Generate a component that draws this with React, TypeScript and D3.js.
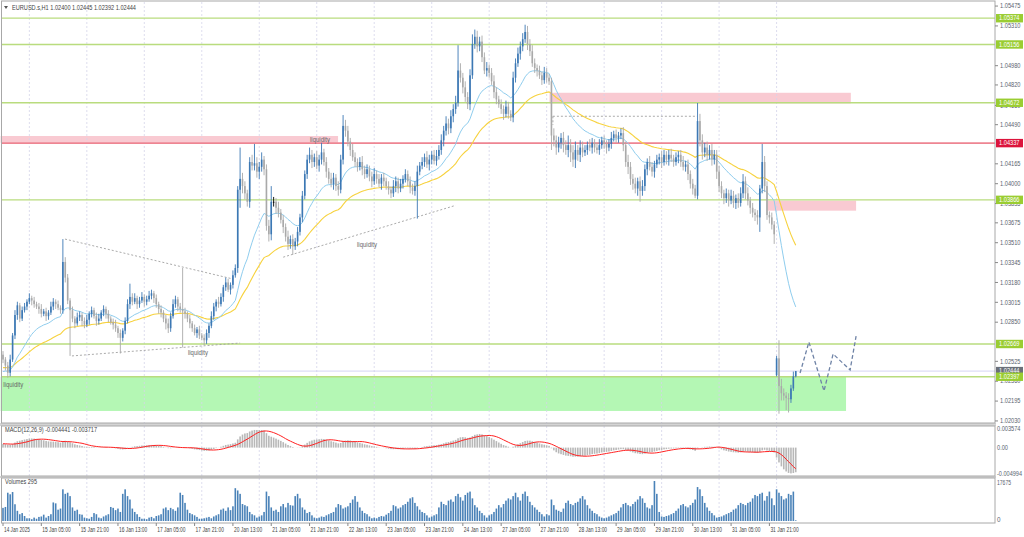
import React from 'react';
import * as d3 from 'd3';

// closes in pips above 1.0000 (e.g. 254 => 1.0254), one per H1 bar, bar 0 = 14 Jan 13:00
const closes = [
  254, 249, 243, 254, 274, 291, 299, 288, 295,
  298, 302, 305, 303, 300, 298, 296, 292, 294, 290, 293, 298, 302, 300, 297, 295,
  335, 322, 303, 295,
  288, 284, 289, 291, 286, 283, 287, 292, 295, 290, 286, 288, 293, 296, 292, 288, 285, 283, 280, 276, 272, 278,
  286, 300, 306, 302, 305, 300, 303, 306, 302, 304, 307, 309, 305, 300, 296,
  293, 288, 284, 280, 290, 300, 304, 298, 296, 294, 292,
  288, 284, 280, 276, 279, 274, 272, 270,
  276, 282, 290, 298, 302, 300, 306, 314, 318, 312, 316, 324, 330,
  395, 404, 398, 392, 385, 418, 415,
  417, 410, 414, 420, 412, 365, 358, 385,
  385, 380, 376, 370, 364, 356, 350, 354, 348, 352, 360,
  372, 390, 408, 420, 424,
  418, 422, 415, 420, 426, 418, 410, 404, 400, 405, 398, 395,
  420, 448, 444, 435, 428, 422, 418,
  414, 418, 412, 408, 412, 406, 402, 408, 404, 400, 405, 402, 398,
  395, 392, 398, 402, 396, 400,
  404, 408, 402, 397, 394, 398, 410, 415,
  418, 422, 416, 420, 424, 419, 423, 428,
  436, 444, 450, 446, 456, 462, 467, 494,
  488, 480, 472, 466, 490, 516, 522, 514, 518,
  505, 494, 496, 492, 485, 476, 470, 466,
  462, 458, 464, 458, 455, 488,
  500, 508, 514, 520, 526, 516, 510, 500, 496, 494,
  490, 486, 492, 488, 485,
  440,
  436, 430, 434, 438, 432, 428,
  432, 426, 420, 428, 424, 430, 426,
  428, 432, 430, 434, 430, 428, 432, 436, 433, 430, 433, 438, 441, 438,
  440, 442, 432, 418, 414, 404,
  400, 396, 402, 394, 398,
  412, 418, 414, 410, 416,
  420, 422, 418, 424, 420, 424, 421, 418, 422, 424, 418, 414, 416,
  408, 400, 396, 390, 452,
  436, 426, 430, 424, 428, 420, 424,
  410, 398, 392, 388,
  392, 386, 390, 384, 388, 384, 392,
  402, 392, 386, 380, 376, 374, 372,
  396, 418, 398, 374, 372, 366, 358,
  255, 232, 226, 224, 222, 221, 230, 240, 244.4,
];
const firstOpen = 258;
const gapOpens: Record<number, number> = { 323: 241 };

// upper wick (pips above body)
const upW = [
  3, 2, 3, 4, 2, 4, 3, 2, 3,
  3, 2, 4, 2, 3, 2, 3, 4, 2, 3, 2, 4, 3, 2, 3, 2,
  19, 4, 3, 2,
  3, 2, 4, 3, 2, 3, 4, 2, 3, 2, 3, 4, 2, 3, 2, 3, 2, 3, 4, 2, 3, 2,
  3, 4, 11, 3, 4, 2, 3, 4, 2, 3, 4, 3, 2, 3, 2,
  3, 2, 3, 4, 3, 4, 3, 2, 3, 34, 3,
  2, 3, 2, 3, 2, 3, 2, 3,
  3, 2, 4, 3, 2, 4, 3, 2, 4, 3, 2, 4, 3,
  3, 26, 5, 4, 3, 4, 6,
  16, 5, 4, 6, 3, 4, 5, 13,
  4, 3, 5, 3, 4, 3, 5, 3, 4, 3, 4,
  3, 4, 3, 4, 6,
  4, 3, 5, 4, 8, 3, 4, 3, 5, 4, 3, 4,
  4, 9, 5, 4, 3, 5, 4,
  3, 4, 5, 3, 4, 3, 4, 5, 3, 4, 3, 4, 3,
  4, 3, 5, 4, 3, 4,
  3, 4, 3, 4, 3, 4, 5, 3,
  4, 3, 5, 4, 3, 4, 5, 4,
  5, 4, 6, 4, 5, 4, 6, 21,
  6, 4, 5, 4, 5, 8, 6, 5, 4,
  5, 4, 5, 3, 4, 5, 4, 3,
  4, 3, 5, 4, 3, 5,
  4, 5, 4, 5, 6, 5, 4, 5, 4, 3,
  4, 3, 5, 4, 3,
  3,
  6, 4, 5, 4, 5, 4,
  8, 5, 6, 7, 4, 6, 5,
  4, 3, 5, 4, 3, 4, 5, 3, 4, 3, 4, 5, 3, 4,
  3, 4, 5, 3, 6, 4,
  4, 5, 3, 4, 5,
  4, 3, 5, 4, 3,
  4, 3, 5, 4, 3, 4, 5, 3, 4, 3, 4, 5, 3,
  4, 3, 4, 3, 15,
  6, 5, 4, 5, 4, 5, 4,
  4, 5, 4, 3,
  4, 3, 5, 4, 3, 4, 5,
  6, 4, 5, 3, 4, 3, 4,
  3, 15, 5, 4, 3, 4, 3,
  2, 15, 6, 4, 3, 4, 3, 4, 0.1,
];
// lower wick (pips below body)
const dnW = [
  3, 4, 4, 3, 2, 3, 4, 3, 2,
  2, 3, 2, 4, 3, 2, 4, 3, 2, 4, 3, 2, 3, 4, 2, 3,
  3, 4, 3, 38,
  3, 4, 2, 3, 4, 3, 2, 4, 3, 2, 4, 3, 2, 3, 4, 3, 2, 4, 3, 4, 13, 3,
  3, 2, 4, 3, 2, 4, 3, 2, 4, 3, 2, 3, 4, 3, 4,
  4, 3, 5, 4, 3, 2, 3, 4, 3, 30, 4,
  3, 4, 3, 2, 4, 3, 2, 4,
  3, 4, 2, 3, 4, 3, 2, 4, 3, 2, 4, 3, 2,
  4, 15, 6, 5, 4, 5, 4,
  4, 5, 6, 4, 5, 4, 6, 5,
  4, 5, 4, 3, 5, 4, 5, 4, 7, 3, 4,
  3, 4, 3, 4, 3,
  5, 4, 3, 5, 4, 3, 5, 4, 3, 5, 4, 5,
  3, 4, 5, 4, 5, 3, 4,
  4, 3, 5, 4, 3, 4, 5, 3, 4, 3, 5, 4, 3,
  4, 4, 3, 5, 4, 3,
  4, 3, 4, 5, 3, 4, 27, 3,
  3, 4, 3, 5, 4, 3, 4, 3,
  4, 5, 4, 5, 4, 5, 4, 3,
  4, 5, 4, 4, 5, 3, 4, 5, 4,
  4, 3, 5, 4, 3, 5, 4, 3,
  4, 5, 3, 4, 3, 4,
  4, 3, 5, 4, 3, 5, 4, 3, 4, 5,
  3, 4, 3, 4, 3,
  12,
  5, 6, 4, 5, 6, 4,
  6, 8, 6, 7, 5, 6, 4,
  3, 4, 3, 5, 4, 3, 4, 3, 4, 5, 3, 4, 3, 4,
  4, 3, 5, 4, 6, 5,
  5, 4, 6, 9, 4,
  4, 5, 3, 4, 5,
  3, 4, 5, 3, 4, 5, 3, 4, 3, 5, 4, 3, 4,
  5, 4, 5, 2, 3,
  5, 6, 4, 5, 4, 5, 4,
  6, 5, 4, 5,
  4, 5, 3, 4, 5, 4, 3,
  4, 5, 4, 5, 4, 5, 6,
  12, 4, 5, 4, 5, 4, 8,
  1, 23, 6, 4, 10, 11, 3, 2, 0.8,
];

// tick volume in hundreds
const volumes = [
  58, 62, 125, 118, 128, 74, 45, 30, 35, 22, 12,
  12, 8, 15, 10, 18, 20, 28, 15, 22, 30, 82, 78, 50, 55, 140, 120, 125, 110, 60, 45, 50, 30, 28, 15,
  12, 10, 18, 35, 30, 15, 12, 20, 25, 30, 62, 58, 48, 55, 40, 120, 140, 110, 95, 55, 40, 30, 18, 10,
  10, 8, 15, 18, 12, 22, 25, 30, 55, 60, 48, 58, 52, 45, 60, 125, 115, 80, 50, 35, 30, 25, 18, 10,
  10, 12, 15, 18, 12, 20, 25, 30, 50, 55, 45, 60, 48, 65, 145, 135, 120, 75, 70, 65, 40, 30, 25, 15,
  20, 25, 40, 130, 110, 60, 45, 50, 40, 65, 75, 60, 80, 70, 68, 110, 120, 100, 60, 50, 35, 40, 25, 15,
  12, 15, 20, 18, 25, 30, 35, 40, 60, 75, 70, 55, 60, 65, 80, 95, 110, 85, 60, 45, 35, 30, 20, 12,
  15, 12, 18, 22, 20, 28, 35, 45, 70, 65, 55, 60, 70, 75, 85, 100, 105, 80, 65, 50, 40, 35, 25, 15,
  20, 25, 30, 60, 85, 75, 70, 90, 95, 85, 110, 120, 105, 90, 115, 125, 130, 100, 70, 60, 45, 35, 25, 15,
  25, 30, 40, 55, 70, 60, 75, 90, 100, 95, 110, 125, 105, 90, 120, 130, 110, 85, 70, 60, 50, 40, 30, 20,
  30, 25, 95, 70, 50, 45, 40, 55, 80, 90, 75, 70, 80, 85, 100, 110, 95, 70, 55, 45, 35, 30, 20, 15,
  12, 15, 20, 25, 30, 35, 45, 60, 75, 80, 70, 65, 75, 85, 95, 110, 100, 80, 60, 55, 70, 176.75, 120, 40,
  20, 18, 22, 25, 30, 35, 45, 55, 70, 75, 65, 60, 70, 80, 95, 150, 140, 110, 80, 60, 45, 35, 25, 15,
  18, 20, 25, 30, 35, 40, 50, 55, 70, 80, 75, 70, 80, 85, 100, 115, 110, 120, 125, 90, 110, 130, 100, 70,
  140, 125, 110, 95, 100, 120, 115, 130, 2.95,
];

const xLabels = [
  '14 Jan 2025', '15 Jan 05:00', '15 Jan 21:00', '16 Jan 13:00', '17 Jan 05:00', '17 Jan 21:00',
  '20 Jan 13:00', '21 Jan 05:00', '21 Jan 21:00', '22 Jan 13:00', '23 Jan 05:00', '23 Jan 21:00',
  '24 Jan 13:00', '27 Jan 05:00', '27 Jan 21:00', '28 Jan 13:00', '29 Jan 05:00', '29 Jan 21:00',
  '30 Jan 13:00', '31 Jan 05:00', '31 Jan 21:00',
];
const dayStarts = [11, 35, 59, 83, 107, 131, 155, 179, 203, 227, 251, 275, 299, 323];
const priceTicks = [
  1.05475, 1.0531, 1.0498, 1.0482, 1.0465, 1.0449, 1.04165, 1.04, 1.03835,
  1.03675, 1.0351, 1.03345, 1.0318, 1.03015, 1.0285, 1.02525, 1.0236, 1.02195, 1.0203,
];
const greenLevels = [1.05374, 1.05156, 1.04672, 1.03866, 1.02669, 1.02397];
const redLevel = 1.04337;
const lastPrice = 1.02444;

// zones: [barFrom, barTo, priceTop, priceBottom]
const pinkZones = [
  [-1, 139.9, 1.04396, 1.0434],
  [228.2, 354, 1.04755, 1.04667],
  [319.4, 356.2, 1.03859, 1.03776],
];
const greenZone = [-1, 352, 1.02397, 1.02113];
// dashed helper lines: [bar1, price1, bar2, price2]
const dashLines = [
  [25.9, 1.0354, 96, 1.03209],
  [28.8, 1.0257, 99, 1.02677],
  [117, 1.0339, 189, 1.0382],
  [229.6, 1.0456, 289.8, 1.0456],
  [229.6, 1.0456, 229.6, 1.04487],
];
// text notes: [bar, price(baseline), text]
const notes: [number, number, string][] = [
  [128.2, 1.0435, 'liquidity'],
  [77.2, 1.02578, 'liquidity'],
  [147.8, 1.03478, 'liquidity'],
  [0.1, 1.0231, 'liquidity'],
];
// projected path [bar, price]
const projection = [
  [332.8, 1.02428], [336.5, 1.02685], [342.8, 1.02279], [346.6, 1.02586], [353.7, 1.02453], [356.2, 1.02735],
];
const seeds = { ema21: 243, ema50: 247, ema12: 250, ema26: 243, macd: 0.0007 };

const FONT = '"Liberation Sans", Arial, sans-serif';
const FS = 6.3;

function ema(vals: number[], period: number, seed: number) {
  const a = 2 / (period + 1);
  let e = seed;
  return vals.map((v) => (e = e + a * (v - e)));
}

export default function App() {
  const X0 = 1.5, XR = 995;
  const x = d3.scaleLinear().domain([0, 320]).range([3, 769.4]);
  const y = d3.scaleLinear().domain([1.02013, 1.05517]).range([423, 1]);
  const ym = d3.scaleLinear().domain([-0.004994, 0.003574]).range([475, 428]);
  const yv = d3.scaleLinear().domain([0, 176.75]).range([521, 481]);
  const px = (v: number) => 1 + v / 10000;

  const bars = closes.map((c, i) => {
    const o = gapOpens[i] ?? (i === 0 ? firstOpen : closes[i - 1]);
    return { i, o, c, h: Math.max(o, c) + upW[i], l: Math.min(o, c) - dnW[i] };
  });

  const e21 = ema(closes, 21, seeds.ema21);
  const e50 = ema(closes, 50, seeds.ema50);
  const e12 = ema(closes, 12, seeds.ema12);
  const e26 = ema(closes, 26, seeds.ema26);
  const macd = e12.map((v, i) => (v - e26[i]) / 10000);
  const signal = macd.map((_, i) => {
    let s = 0;
    for (let k = i - 8; k <= i; k++) s += k < 0 ? seeds.macd : macd[k];
    return s / 9;
  });

  const lineP = d3.line<number>().x((_, i) => x(i)).y((v) => y(px(v)));
  const lineM = d3.line<number>().x((_, i) => x(i)).y((v) => ym(v));
  const proj = d3.line<number[]>().x((d) => x(d[0])).y((d) => y(d[1]));

  const bull = '#3c78b4', bear = '#a9a9a9';
  const bw = 1.6;

  const axisLabel = (yy: number, txt: string, bg: string, key: string) => (
    <g key={key}>
      <rect x={996} y={yy - 4.2} width={27} height={8.4} fill={bg} />
      <text x={999} y={yy + 2.2} fontSize={FS} fill="#fff" fontFamily={FONT} textLength={20.5} lengthAdjust="spacingAndGlyphs">{txt}</text>
    </g>
  );

  return (
    <svg width={1024} height={537} style={{ position: 'absolute', left: 0, top: 0, background: '#fff' }}>
      <rect x={0} y={0} width={1024} height={537} fill="#fff" />
      {/* panel separators */}
      <rect x={0} y={423} width={996} height={3} fill="#d4d4d4" />
      <rect x={0} y={476} width={996} height={2} fill="#d4d4d4" />

      {/* zones */}
      {pinkZones.map((z, k) => (
        <rect key={'pz' + k} x={x(z[0])} y={y(z[2])} width={x(z[1]) - x(z[0])} height={y(z[3]) - y(z[2])} fill="#f9cad2" />
      ))}
      <rect x={x(greenZone[0])} y={y(greenZone[2])} width={x(greenZone[1]) - x(greenZone[0])}
        height={y(greenZone[3]) - y(greenZone[2])} fill="#b4f7b4" />

      {/* vertical grid */}
      {dayStarts.map((b) => (
        <line key={'g' + b} x1={x(b)} x2={x(b)} y1={2} y2={522} stroke="#d4d4ea" strokeWidth={0.8} strokeDasharray="2,2" />
      ))}

      {/* level lines */}
      {greenLevels.map((p) => (
        <line key={'gl' + p} x1={X0} x2={XR} y1={y(p)} y2={y(p)} stroke="#b9dc7e" strokeWidth={1.3} />
      ))}
      <line x1={X0} x2={XR} y1={y(redLevel)} y2={y(redLevel)} stroke="#ee8592" strokeWidth={1.6} />
      <line x1={X0} x2={XR} y1={y(lastPrice)} y2={y(lastPrice)} stroke="#c9c9f0" strokeWidth={0.8} />

      {/* dashed helper lines */}
      {dashLines.map((l, k) => (
        <line key={'dl' + k} x1={x(l[0])} y1={y(l[1])} x2={x(l[2])} y2={y(l[3])} stroke="#a0a0a0" strokeWidth={0.9} strokeDasharray="2,2" />
      ))}

      {/* MAs */}
      <path d={lineP(e50) || ''} fill="none" stroke="#f7d23e" strokeWidth={1.1} />
      <path d={lineP(e21) || ''} fill="none" stroke="#8fcdee" strokeWidth={1} />

      {/* candles */}
      {bars.map((b) => {
        const col = b.c > b.o ? bull : b.c < b.o ? bear : '#000';
        const yt = y(px(Math.max(b.o, b.c)));
        const yb = y(px(Math.min(b.o, b.c)));
        return (
          <g key={'c' + b.i}>
            <line x1={x(b.i)} x2={x(b.i)} y1={y(px(b.h))} y2={y(px(b.l))} stroke={col} strokeWidth={0.9} />
            <rect x={x(b.i) - bw / 2} y={yt} width={bw} height={Math.max(0.9, yb - yt)} fill={col} />
          </g>
        );
      })}

      {/* projection */}
      <path d={proj(projection) || ''} fill="none" stroke="#6f83a6" strokeWidth={1.3} strokeDasharray="4,2.5" />

      {/* notes */}
      {notes.map((n, k) => (
        <text key={'n' + k} x={x(n[0])} y={y(n[1])} fontSize={FS} fill="#666" fontFamily={FONT} textLength={20} lengthAdjust="spacingAndGlyphs">{n[2]}</text>
      ))}

      {/* header */}
      <path d="M4,6 L8,6 L6,9 Z" fill="#555" />
      <text x={12} y={9.5} fontSize={FS} fill="#444" fontFamily={FONT} textLength={124} lengthAdjust="spacingAndGlyphs">EURUSD.s,H1  1.02400 1.02445 1.02392 1.02444</text>

      {/* MACD */}
      {macd.map((m, i) => (
        <rect key={'m' + i} x={x(i) - bw / 2} y={Math.min(ym(m), ym(0))} width={bw} height={Math.abs(ym(m) - ym(0))} fill="#b8b8b8" />
      ))}
      <path d={lineM(signal) || ''} fill="none" stroke="#ff2020" strokeWidth={1} />
      <text x={5} y={432} fontSize={FS} fill="#444" fontFamily={FONT} textLength={92} lengthAdjust="spacingAndGlyphs">MACD(12,26,9) -0.004441 -0.003717</text>

      {/* Volumes */}
      {volumes.map((v, i) => (
        <rect key={'v' + i} x={x(i) - bw / 2} y={yv(v)} width={bw} height={yv(0) - yv(v)} fill="#4a82b8" />
      ))}
      <text x={5} y={484} fontSize={FS} fill="#444" fontFamily={FONT} textLength={32} lengthAdjust="spacingAndGlyphs">Volumes 295</text>

      {/* borders */}
      <rect x={X0} y={1} width={XR - X0} height={422} fill="none" stroke="#a8a8a8" strokeWidth={1} />
      <rect x={X0} y={426} width={XR - X0} height={50} fill="none" stroke="#a8a8a8" strokeWidth={1} />
      <rect x={X0} y={478} width={XR - X0} height={45} fill="none" stroke="#a8a8a8" strokeWidth={1} />

      {/* price axis */}
      {priceTicks.map((p) => (
        <g key={'t' + p}>
          <line x1={XR} x2={XR + 3} y1={y(p)} y2={y(p)} stroke="#888" />
          <text x={1000} y={y(p) + 2.2} fontSize={FS} fill="#5a6470" fontFamily={FONT} textLength={20.5} lengthAdjust="spacingAndGlyphs">{p.toFixed(5)}</text>
        </g>
      ))}
      {axisLabel(y(lastPrice), lastPrice.toFixed(5), '#6b7079', 'last')}
      {greenLevels.map((p) => axisLabel(y(p), p.toFixed(5), '#9acd32', 'al' + p))}
      {axisLabel(y(redLevel), redLevel.toFixed(5), '#dc143c', 'red')}

      {/* MACD axis */}
      <text x={997} y={431} fontSize={FS} fill="#5a6470" fontFamily={FONT} textLength={23.5} lengthAdjust="spacingAndGlyphs">0.003574</text>
      <text x={997} y={ym(0) + 2.2} fontSize={FS} fill="#5a6470" fontFamily={FONT} textLength={11} lengthAdjust="spacingAndGlyphs">0.00</text>
      <text x={997} y={475.5} fontSize={FS} fill="#5a6470" fontFamily={FONT} textLength={25} lengthAdjust="spacingAndGlyphs">-0.004994</text>
      {/* Volume axis */}
      <text x={997} y={484.5} fontSize={FS} fill="#5a6470" fontFamily={FONT} textLength={14} lengthAdjust="spacingAndGlyphs">17675</text>
      <text x={997} y={yv(0) + 0.5} fontSize={FS} fill="#5a6470" fontFamily={FONT}>0</text>

      {/* time axis */}
      {xLabels.map((t, k) => (
        <g key={'x' + k}>
          <line x1={x(k * 16)} x2={x(k * 16)} y1={523} y2={526} stroke="#888" />
          <text x={x(k * 16) + 1} y={531.5} fontSize={FS} fill="#444" fontFamily={FONT} textLength={k === 0 ? 26 : 28.3} lengthAdjust="spacingAndGlyphs">{t}</text>
        </g>
      ))}
    </svg>
  );
}
